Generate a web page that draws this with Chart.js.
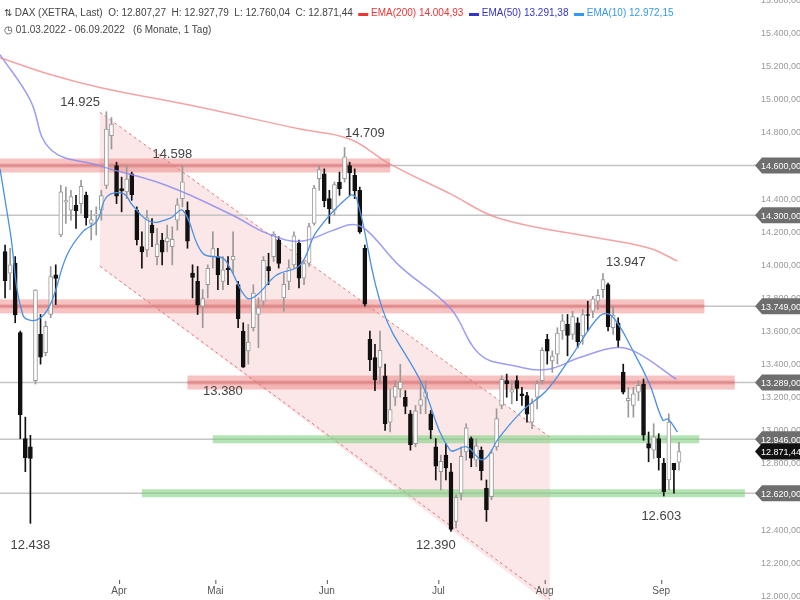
<!DOCTYPE html>
<html><head><meta charset="utf-8">
<script src="https://cdn.jsdelivr.net/npm/chart.js@4/dist/chart.umd.min.js"></script>
<style>
html,body{margin:0;padding:0;background:#fff;}
#wrap{position:relative;width:800px;height:600px;}
#hdr{position:absolute;left:4px;top:4px;font:10px "Liberation Sans",Arial,sans-serif;color:#444;line-height:17px;pointer-events:none;}
</style></head><body>
<div id="wrap"><canvas id="c" width="800" height="600"></canvas>
<div id="hdr"><div>&#8645; DAX (XETRA, Last)&nbsp; O: 12.807,27&nbsp; H: 12.927,79&nbsp; L: 12.760,04&nbsp; C: 12.871,44&nbsp; <span style="color:#e33">▬ EMA(200) 14.004,93</span>&nbsp; <span style="color:#33c">▬ EMA(50) 13.291,38</span>&nbsp; <span style="color:#39e">▬ EMA(10) 12.972,15</span></div>
<div>&#9719; 01.03.2022 - 06.09.2022&nbsp;&nbsp; (6 Monate, 1 Tag)</div></div>
</div>
<script>
const opens=[14080,13950,14010,13590,12950,12900,13300,13580,13470,13700,13940,14180,14380,14330,14360,14370,14420,14250,14300,14330,14480,14780,14600,
14460,14440,14550,14330,14110,14090,14240,14050,14150,14140,14110,14270,14400,14330,13950,13900,13750,13880,14050,
14050,13900,13980,14030,13880,13600,13480,13620,13700,13780,13990,14050,14150,13800,13900,14000,14130,13920,14010,14250,14520,14550,
14400,14330,14500,14520,14600,14540,14450,14100,13550,13440,13380,13330,13050,13200,13250,13200,13100,12920,13150,13200,13100,12900,
12750,12850,12750,12450,12620,12870,12950,12820,12880,12650,12600,12900,13150,13300,13230,13300,13220,13210,13050,13200,13300,
13550,13420,13460,13600,13640,13580,13650,13570,13700,13720,13780,13850,13880,13620,13650,13350,13180,13150,13230,13280,12920,12880,12950,
12800,12700,12800,12807];
const highs=[14120,14100,14050,13600,13080,12970,13850,13700,13660,13990,14000,14480,14470,14450,14420,14510,14440,14330,14350,14450,14925,14890,14620,
14530,14600,14560,14350,14200,14330,14280,14220,14190,14240,14230,14400,14598,14380,14000,13990,13850,14000,14200,
14100,14050,14050,14200,13900,13650,13640,13880,13800,14050,14070,14200,14170,13950,14030,14200,14150,14020,14250,14480,14600,14580,
14450,14500,14560,14709,14620,14580,14470,14120,13600,13520,13600,13400,13250,13300,13400,13240,13120,13150,13300,13300,13120,12950,
12850,12920,12800,12610,12900,13040,12960,12950,12900,12700,12880,13130,13330,13340,13300,13330,13260,13230,13190,13300,13500,
13580,13480,13620,13700,13700,13720,13680,13730,13780,13810,13850,13947,13890,13750,13680,13400,13260,13260,13300,13310,12990,13040,12980,
12830,13100,12800,12928];
const lows=[13800,13850,13650,12950,12750,12438,13280,13400,13450,13680,13760,14170,14250,14270,14220,14310,14240,14150,14180,14270,14460,14700,14370,
14320,14400,14390,14120,13980,14050,14110,14000,14000,14080,14000,14210,14350,14100,13800,13700,13620,13800,13980,
13850,13850,13880,13950,13620,13380,13400,13600,13500,13750,13880,14020,13980,13720,13850,13980,13860,13880,13990,14240,14450,14350,
14250,14300,14420,14500,14420,14400,14190,13750,13360,13240,13280,13000,12990,13150,13200,13100,12880,12900,13100,13100,12950,12700,
12640,12700,12390,12410,12580,12820,12780,12780,12700,12450,12580,12880,13130,13200,13160,13180,13150,13050,13010,13130,13280,
13400,13350,13400,13550,13450,13550,13500,13520,13600,13680,13730,13800,13600,13580,13500,13220,13080,13080,13180,12940,12810,12830,12760,
12603,12640,12620,12760];
const closes=[13905,14000,13698,13094,12835,12831,13847,13442,13628,13929,13918,14441,14388,14413,14326,14474,14283,14274,14306,14418,14820,14851,14415,
14446,14518,14424,14152,14078,14284,14193,14125,14076,14163,14154,14362,14502,14143,13924,13756,13796,13979,14098,
13939,13970,13971,14052,13674,13381,13534,13829,13740,14027,13964,14186,14008,13882,13982,14175,13919,14008,14231,14463,14575,14388,
14340,14485,14460,14653,14556,14446,14199,13762,13427,13304,13484,13039,13126,13265,13292,13145,12913,13118,13186,13232,13003,12784,
12813,12773,12401,12595,12843,13015,12832,12906,12756,12520,12864,13071,13308,13282,13246,13254,13210,13097,13166,13282,13484,
13479,13449,13587,13662,13574,13688,13535,13700,13694,13795,13816,13911,13627,13697,13544,13230,13194,13220,13272,12971,12893,12961,12835,
12630,13050,12761,12871];
const ema10=[[-1,14580],[1,14202],[3.5,13698],[6.3,13668],[8.9,13758],[12.2,14058],[15.4,14202],[18.1,14262],[20.1,14412],[23.3,14430],[25.2,14358],[28.6,14262],[32.5,14280],[35.1,14328],[39,14070],[43,14040],[44.4,13980],[47.7,13800],[49.7,13818],[53.6,13938],[58.2,13998],[61.5,14202],[68,14418],[69.4,14400],[74.6,13722],[81.3,13338],[82.4,13272],[87.8,12882],[91.1,12900],[94.3,12822],[97.6,12960],[102.2,13122],[106.9,13242],[112,13458],[117.4,13692],[119.7,13692],[123.9,13482],[127.2,13278],[129.8,13062],[130.8,13068],[132.7,12990]];
const ema50=[[-1,15270],[4.9,15000],[8.9,14700],[18.7,14598],[32,14478],[45,14298],[51.7,14190],[58.2,14142],[64.7,14208],[68.6,14244],[71.4,14208],[77.9,13992],[87.8,13740],[93.7,13458],[100.2,13392],[106.9,13368],[113.4,13440],[120.7,13500],[124.7,13470],[132.5,13308]];
const ema200=[[-1,15252],[8.9,15150],[18.7,15072],[38.5,14952],[58.2,14820],[68,14760],[75.9,14610],[87.8,14430],[97.6,14280],[117.4,14160],[127.2,14100],[132.7,14022]];
const monthLabels=['Apr','Mai','Jun','Jul','Aug','Sep'];
const monthIdx=[22.5,41.5,63.5,85.5,106.5,129.5];
const yTicks=[12000,12200,12400,12600,12800,13000,13200,13400,13600,13800,14000,14200,14400,14600,14800,15000,15200,15400,15600];
const levels=[14600,14300,13749,13289,12946,12620];
const levelText=['14.600,00','14.300,00','13.749,00','13.289,00','12.946,00','12.620,00'];
const redBands=[[14600,-1,76],[13749,-1,138],[13289,36,144]];
const greenBands=[[12946,41,137],[12620,27,146]];
const notes=[['14.925',14.8,14925,-6],['14.598',33,14598,-8],['14.709',71,14709,-10],['13.947',122.5,13947,-8],['13.380',43,13380,28],['12.390',85,12390,18],['12.438',5,12438,26],['12.603',129.5,12603,24]];
const lastClose=12871.44;

const idx=closes.map((_,i)=>i);
const up=idx.map(i=>closes[i]>=opens[i]);
const fmt=v=>v.toLocaleString('de-DE',{minimumFractionDigits:2,maximumFractionDigits:2});

const bg={id:'bg',beforeDatasetsDraw(ch){
 const {ctx,scales:{x,y}}=ch;ctx.save();
 ctx.beginPath();ctx.moveTo(x.getPixelForValue(18.7),y.getPixelForValue(14922));
 ctx.lineTo(x.getPixelForValue(107.5),y.getPixelForValue(12960));
 ctx.lineTo(x.getPixelForValue(107.5),y.getPixelForValue(11950));
 ctx.lineTo(x.getPixelForValue(18.7),y.getPixelForValue(13992));ctx.closePath();
 ctx.fillStyle='rgba(240,170,170,0.28)';ctx.fill();
 ctx.setLineDash([3,3]);ctx.strokeStyle='rgba(215,90,90,0.8)';ctx.lineWidth=1;
 ctx.beginPath();ctx.moveTo(x.getPixelForValue(18.7),y.getPixelForValue(14922));ctx.lineTo(x.getPixelForValue(107.5),y.getPixelForValue(12960));ctx.stroke();
 ctx.beginPath();ctx.moveTo(x.getPixelForValue(18.7),y.getPixelForValue(13992));ctx.lineTo(x.getPixelForValue(107.5),y.getPixelForValue(11980));ctx.stroke();
 ctx.setLineDash([]);
 ctx.strokeStyle='#c4c4c4';ctx.lineWidth=1.5;
 levels.forEach(v=>{const py=y.getPixelForValue(v);ctx.beginPath();ctx.moveTo(0,py);ctx.lineTo(760,py);ctx.stroke();});
 redBands.forEach(([v,a0,a1])=>{const py=y.getPixelForValue(v);const x0=Math.max(0,x.getPixelForValue(a0)),x1=x.getPixelForValue(a1);
  ctx.fillStyle='rgba(235,120,120,0.45)';ctx.fillRect(x0,py-7,x1-x0,14);ctx.fillStyle='rgba(220,90,90,0.35)';ctx.fillRect(x0,py-2,x1-x0,4);});
 greenBands.forEach(([v,a0,a1])=>{const py=y.getPixelForValue(v);const x0=x.getPixelForValue(a0),x1=x.getPixelForValue(a1);
  ctx.fillStyle='rgba(130,210,130,0.6)';ctx.fillRect(x0,py-4,x1-x0,8);});
 ctx.restore();
},afterDatasetsDraw(ch){
 const {ctx,scales:{x,y}}=ch;ctx.save();
 ctx.font='9px "Liberation Sans",Arial,sans-serif';ctx.fillStyle='#999';ctx.textAlign='left';
 yTicks.forEach(v=>{ctx.fillText(fmt(v)+' -',761,y.getPixelForValue(v)+3);});
 ctx.font='13px "Liberation Sans",Arial,sans-serif';ctx.fillStyle='#444';ctx.textAlign='center';
 notes.forEach(([t,i,v,dy])=>{ctx.fillText(t,x.getPixelForValue(i),y.getPixelForValue(v)+dy);});
 ctx.font='10px "Liberation Sans",Arial,sans-serif';ctx.fillStyle='#555';
 monthLabels.forEach((m,k)=>{const px=x.getPixelForValue(monthIdx[k]);ctx.fillText(m,px,594);ctx.fillRect(px,580,1,4);});
 ctx.font='9px "Liberation Sans",Arial,sans-serif';
 const bubble=(v,t,col)=>{const py=y.getPixelForValue(v);ctx.beginPath();ctx.moveTo(755,py);ctx.lineTo(762,py-8);ctx.lineTo(800,py-8);ctx.lineTo(800,py+8);ctx.lineTo(762,py+8);ctx.closePath();
  ctx.fillStyle=col;ctx.fill();ctx.fillStyle='#fff';ctx.textAlign='left';ctx.fillText(t,761,py+3.5);};
 levels.forEach((v,k)=>bubble(v,levelText[k],'#6e6e6e'));
 bubble(lastClose,fmt(lastClose),'#111');
 ctx.restore();}};

new Chart(document.getElementById('c'),{
 data:{datasets:[
  {type:'line',data:ema200.map(p=>({x:p[0],y:p[1]})),borderColor:'rgba(240,140,140,0.8)',borderWidth:1.5,pointRadius:0,tension:0.4,order:1},
  {type:'line',data:ema50.map(p=>({x:p[0],y:p[1]})),borderColor:'rgba(140,140,240,0.85)',borderWidth:1.5,pointRadius:0,tension:0.4,order:1},
  {type:'line',data:ema10.map(p=>({x:p[0],y:p[1]})),borderColor:'#4a90e2',borderWidth:1.3,pointRadius:0,tension:0.4,order:1},
  {type:'bar',grouped:false,data:idx.map(i=>({x:i,y:[lows[i],highs[i]]})),backgroundColor:idx.map(i=>up[i]?'#999':'#111'),barThickness:1,order:3},
  {type:'bar',grouped:false,data:idx.map(i=>({x:i,y:[opens[i],closes[i]]})),backgroundColor:idx.map(i=>up[i]?'#fff':'#111'),borderColor:idx.map(i=>up[i]?'#999':'#111'),borderWidth:1,borderSkipped:false,barThickness:4,minBarLength:1,order:2}
 ]},
 options:{animation:false,responsive:false,events:[],layout:{padding:0},
  plugins:{legend:{display:false},tooltip:{enabled:false}},
  scales:{
   x:{type:'linear',min:-1,max:148,display:false,offset:false},
   y:{position:'right',min:11975,max:15600,grid:{display:false},border:{display:false},
      afterFit:s=>{s.width=45;},
      ticks:{display:false,stepSize:200}}
  }},
 plugins:[bg]
});
</script></body></html>
